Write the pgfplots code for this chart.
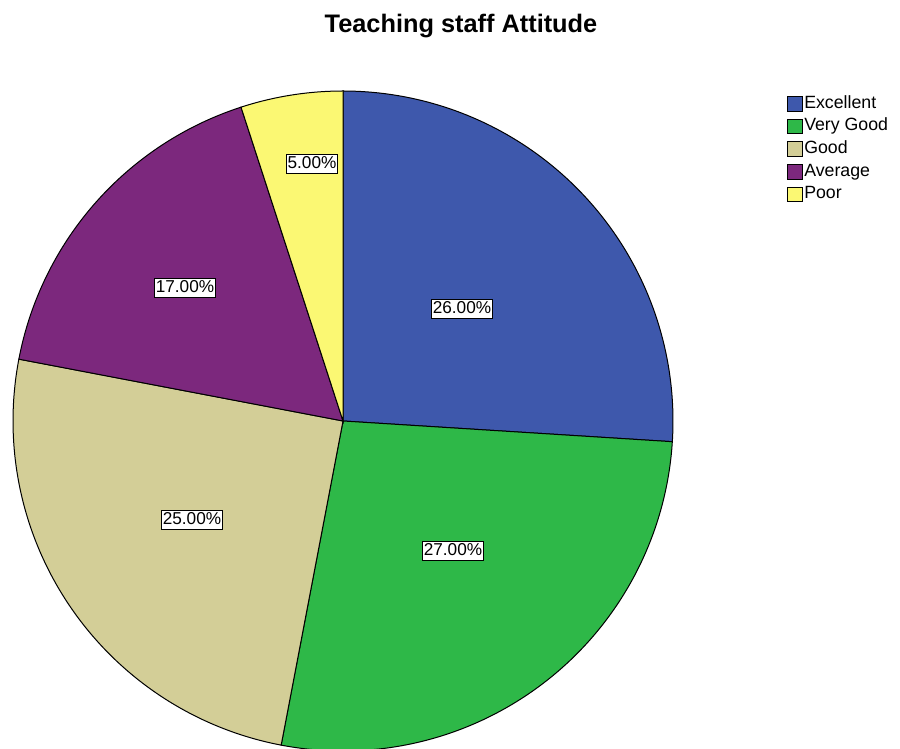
\documentclass[border=0pt]{standalone}
\usepackage{pgfplots}
\pgfplotsset{compat=1.18}
\usepackage{fontspec}
\setmainfont{Liberation Sans}
\definecolor{cExc}{HTML}{3E58AC}
\definecolor{cVG}{HTML}{2EB848}
\definecolor{cGood}{HTML}{D3CE97}
\definecolor{cAvg}{HTML}{7C287D}
\definecolor{cPoor}{HTML}{FBF873}
% percentages: Excellent, Very Good, Good, Average, Poor
\def\vA{26}\def\vB{27}\def\vC{25}\def\vD{17}\def\vE{5}
\pgfmathsetmacro{\aO}{90}
\pgfmathsetmacro{\aA}{\aO-3.6*\vA}
\pgfmathsetmacro{\aB}{\aA-3.6*\vB}
\pgfmathsetmacro{\aC}{\aB-3.6*\vC}
\pgfmathsetmacro{\aD}{\aC-3.6*\vD}
\pgfmathsetmacro{\aE}{\aD-3.6*\vE}
\def\cx{343}\def\cy{328}\def\R{330}
\begin{document}
\begin{tikzpicture}
\begin{axis}[
  x=0.75pt, y=0.75pt,
  xmin=0, xmax=900, ymin=0, ymax=749,
  hide axis,
  clip=true,
  legend image code/.code={\draw[#1,draw=black,line width=0.75pt] (0pt,-5.6pt) rectangle (11pt,5.4pt);},
  legend style={at={(axis cs:787,655)}, anchor=north west, draw=none, fill=none,
    inner sep=0pt, row sep=3pt,
    nodes={inner sep=1pt, anchor=west, font=\fontsize{13.3pt}{15pt}\selectfont, text height=9.5pt, text depth=2.5pt},
    /tikz/every even column/.append style={column sep=0.5pt}},
  legend cell align=left,
]
\path (axis cs:0,0) rectangle (axis cs:900,749);
\addplot[fill=cExc, draw=black, line width=0.75pt, domain=\aO:\aA, samples=120, variable=\t]
  ({\cx+\R*cos(\t)},{\cy+\R*sin(\t)}) -- (axis cs:\cx,\cy) -- cycle;
\addlegendentry{Excellent}
\addplot[fill=cVG, draw=black, line width=0.75pt, domain=\aA:\aB, samples=120, variable=\t]
  ({\cx+\R*cos(\t)},{\cy+\R*sin(\t)}) -- (axis cs:\cx,\cy) -- cycle;
\addlegendentry{Very Good}
\addplot[fill=cGood, draw=black, line width=0.75pt, domain=\aB:\aC, samples=120, variable=\t]
  ({\cx+\R*cos(\t)},{\cy+\R*sin(\t)}) -- (axis cs:\cx,\cy) -- cycle;
\addlegendentry{Good}
\addplot[fill=cAvg, draw=black, line width=0.75pt, domain=\aC:\aD, samples=80, variable=\t]
  ({\cx+\R*cos(\t)},{\cy+\R*sin(\t)}) -- (axis cs:\cx,\cy) -- cycle;
\addlegendentry{Average}
\addplot[fill=cPoor, draw=black, line width=0.75pt, domain=\aD:\aE, samples=30, variable=\t]
  ({\cx+\R*cos(\t)},{\cy+\R*sin(\t)}) -- (axis cs:\cx,\cy) -- cycle;
\addlegendentry{Poor}
\tikzset{lbl/.style={draw=black, fill=white, line width=0.75pt, inner sep=1pt, font=\fontsize{12.9pt}{14pt}\selectfont, text height=9.5pt, text depth=2.5pt}}
\node[lbl] at (axis cs:462,440) {26.00\%};
\node[lbl] at (axis cs:453,198) {27.00\%};
\node[lbl] at (axis cs:192,229) {25.00\%};
\node[lbl] at (axis cs:185,461) {17.00\%};
\node[lbl] at (axis cs:312,585) {5.00\%};
\node[anchor=base, font=\bfseries\fontsize{19pt}{22pt}\selectfont] at (axis cs:461,716) {Teaching staff Attitude};
\end{axis}
\end{tikzpicture}
\end{document}
